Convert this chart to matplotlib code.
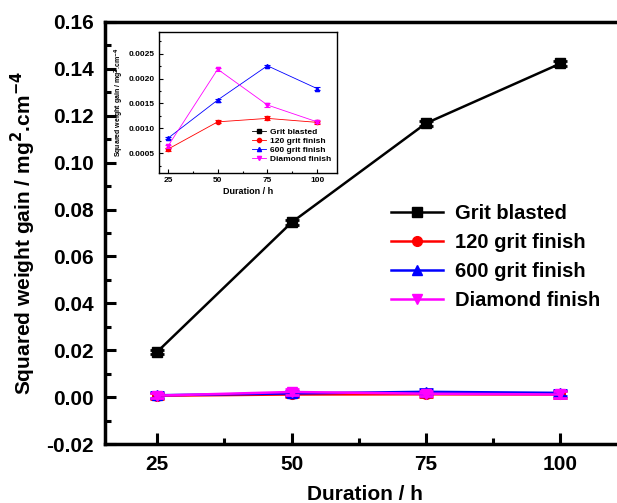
import numpy as np
import matplotlib.pyplot as plt
from matplotlib.ticker import MultipleLocator, FormatStrFormatter

plt.rcParams['font.family'] = 'Liberation Sans'
plt.rcParams['font.weight'] = 'bold'

# data
duration = [25, 50, 75, 100]
grit_blasted = [0.0193, 0.0745, 0.1168, 0.1423]
grit_blasted_err = [0.0010, 0.0010, 0.0010, 0.0010]
grit120 = [0.000580, 0.00113, 0.00120, 0.00112]
grit120_err = [0.00003, 0.00003, 0.00004, 0.00003]
grit600 = [0.00080, 0.00157, 0.00226, 0.00180]
grit600_err = [0.00002, 0.00003, 0.00002, 0.00003]
diamond = [0.00064, 0.00219, 0.00147, 0.00113]
diamond_err = [0.00003, 0.00003, 0.00004, 0.00003]
small_err_main = [0.0012, 0.0012, 0.0010, 0.0014]

labels = ['Grit blasted', '120 grit finish', '600 grit finish', 'Diamond finish']
colors = ['black', 'red', 'blue', 'magenta']
markers = ['s', 'o', '^', 'v']

fig = plt.figure(figsize=(6.17, 5.03), dpi=100)
ax = fig.add_axes([105 / 617, 59 / 503, 520 / 617, 422 / 503])

series = [grit_blasted, grit120, grit600, diamond]
errs_main = [grit_blasted_err, small_err_main, small_err_main, small_err_main]
for s, e, lab, c, m in zip(series, errs_main, labels, colors, markers):
    ax.errorbar(duration, s, yerr=e, fmt='none', ecolor=c, elinewidth=2,
                capsize=5, capthick=2)
    ax.plot(duration, s, color=c, marker=m, markersize=7, lw=1.8, label=lab)

ax.set_xlim(15.3, 112)
ax.set_ylim(-0.02, 0.16)
ax.xaxis.set_major_locator(MultipleLocator(25))
ax.xaxis.set_minor_locator(MultipleLocator(12.5))
ax.yaxis.set_major_locator(MultipleLocator(0.02))
ax.yaxis.set_minor_locator(MultipleLocator(0.01))
ax.yaxis.set_major_formatter(FormatStrFormatter('%.2f'))
ax.tick_params(which='both', direction='in', width=2.2, labelsize=15, pad=8)
ax.tick_params(which='major', length=8)
ax.tick_params(which='minor', length=4)
ax.spines['right'].set_visible(False)
for sp in ['left', 'bottom', 'top']:
    ax.spines[sp].set_linewidth(2.5)
ax.set_xlabel('Duration / h', fontsize=15, fontweight='bold', labelpad=8)
ax.set_ylabel('Squared weight gain / mg$^\\mathbf{2}$.cm$^\\mathbf{-4}$', fontsize=15,
              fontweight='bold', labelpad=6)
ax.legend(loc='upper left', bbox_to_anchor=(0.53, 0.593), frameon=False, fontsize=14.5,
          handlelength=2.6, handletextpad=0.6, labelspacing=0.5, borderpad=0)

# inset
ins = fig.add_axes([159 / 617, 330 / 503, 178 / 617, 141 / 503])
errs_ins = [grit_blasted_err, grit120_err, grit600_err, diamond_err]
for s, e, lab, c, m in zip(series, errs_ins, labels, colors, markers):
    ins.errorbar(duration, s, yerr=e, fmt='none', ecolor=c, elinewidth=0.8,
                 capsize=2, capthick=0.8)
    ins.plot(duration, s, color=c, marker=m, markersize=3, lw=0.6, label=lab)
ins.set_xlim(20.5, 110)
ins.set_ylim(0.0001, 0.00294)
ins.xaxis.set_major_locator(MultipleLocator(25))
ins.xaxis.set_minor_locator(MultipleLocator(12.5))
ins.yaxis.set_major_locator(MultipleLocator(0.0005))
ins.yaxis.set_minor_locator(MultipleLocator(0.00025))
ins.yaxis.set_major_formatter(FormatStrFormatter('%.4f'))
ins.tick_params(which='both', direction='in', width=0.8, labelsize=6, pad=3)
ins.tick_params(which='major', length=3)
ins.tick_params(which='minor', length=1.5)
for sp in ins.spines.values():
    sp.set_linewidth(1.0)
ins.set_xlabel('Duration / h', fontsize=6.5, fontweight='bold', labelpad=2)
ins.set_ylabel('Squared weight gain / mg$^\\mathbf{2}$.cm$^\\mathbf{-4}$', fontsize=5,
               fontweight='bold', labelpad=2)
ins.legend(loc='upper left', bbox_to_anchor=(0.5, 0.345), frameon=False, fontsize=6,
           handlelength=1.6, handletextpad=0.5, labelspacing=0.12, borderpad=0)

fig.savefig('out.png', dpi=100)
